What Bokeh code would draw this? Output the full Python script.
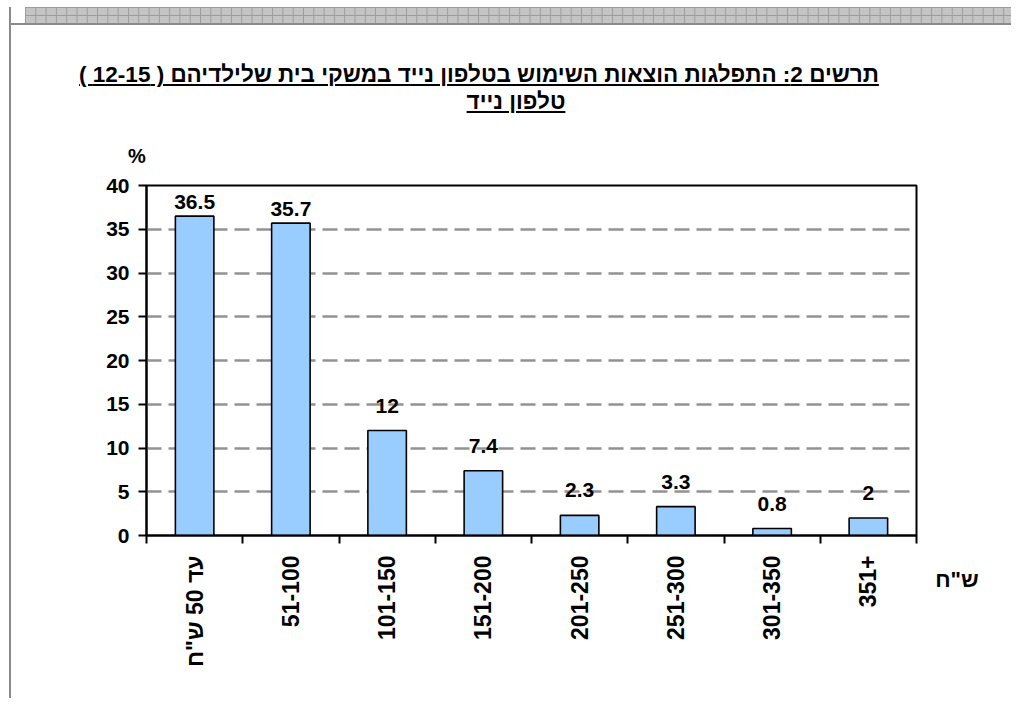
import math
import numpy as np
from bokeh.plotting import figure
from bokeh.models import ColumnDataSource, Range1d, FixedTicker, Div
from bokeh.layouts import column, row
from bokeh.embed import file_html
from bokeh.resources import INLINE
from bokeh.core.properties import value

# ---------------- data ----------------
categories = ['עד 50 ש"ח', "51-100", "101-150", "151-200", "201-250",
              "251-300", "301-350", "351+"]
percent = [36.5, 35.7, 12, 7.4, 2.3, 3.3, 0.8, 2]
value_labels = ["36.5", "35.7", "12", "7.4", "2.3", "3.3", "0.8", "2"]
y_ticks = [0, 5, 10, 15, 20, 25, 30, 35, 40]
title_line1 = "תרשים 2: התפלגות הוצאות השימוש בטלפון נייד במשקי בית שלילדיהם ( 12-15 )"
title_line2 = "טלפון נייד"
y_unit = "%"
x_unit = 'ש"ח'

FONT = "Liberation Sans"

n = len(categories)
centers = np.arange(n) + 0.5
vals = np.array(percent, dtype=float)
gaps = np.where(vals > 30, 7, 18)

src = ColumnDataSource(dict(x=centers, top=vals, lab=value_labels, off=-gaps))

# ---------------- header (frame band + title + y unit) ----------------
HEADER_H = 160
band_css = ("position:absolute;left:14px;top:0;width:986px;height:16px;"
            "background-color:#c4c4c4;"
            "background-image:linear-gradient(90deg,#9c9c9c 1px,transparent 1px),"
            "linear-gradient(#9c9c9c 1px,transparent 1px);"
            "background-size:10.3px 8px;")
txt = "position:absolute;font-weight:bold;color:#000;text-align:center;"
header_html = f"""
<div style="position:relative;width:1000px;height:{HEADER_H}px;font-family:'{FONT}',Arial,sans-serif;">
  <div style="{band_css}"></div>
  <div style="position:absolute;left:0;top:16px;width:1000px;height:2px;background:#8a8a8a;"></div>
  <div dir="rtl" style="{txt}left:0;width:936px;top:56px;font-size:22.5px;line-height:24px;
       text-decoration:underline;">{title_line1}</div>
  <div dir="rtl" style="{txt}left:305px;width:400px;top:83px;font-size:22.5px;line-height:24px;
       text-decoration:underline;">{title_line2}</div>
  <div style="{txt}left:106px;width:40px;top:139px;font-size:20px;line-height:20px;">{y_unit}</div>
</div>
"""
header = Div(text=header_html, width=1000, height=HEADER_H, margin=0)

FIG_H = 531
unit_html = f"""
<div style="position:relative;width:85px;height:{FIG_H}px;font-family:'{FONT}',Arial,sans-serif;">
  <div dir="rtl" style="{txt}left:0;width:62px;top:401px;font-size:22px;line-height:24px;">{x_unit}</div>
</div>
"""
unit_div = Div(text=unit_html, width=85, height=FIG_H, margin=0)

# ---------------- figure ----------------
p = figure(width=915, height=FIG_H, output_backend="svg", toolbar_location=None,
           x_range=Range1d(0, n), y_range=Range1d(y_ticks[0], y_ticks[-1]),
           min_border_left=135, min_border_right=10, min_border_top=18,
           min_border_bottom=163, background_fill_color="white",
           border_fill_color="white")
p.margin = 0

p.outline_line_color = "black"
p.outline_line_width = 2
p.outline_line_alpha = 1

# grid
p.xgrid.grid_line_color = None
p.ygrid.ticker = FixedTicker(ticks=y_ticks)
p.ygrid.grid_line_color = "#929292"
p.ygrid.grid_line_width = 2.5
p.ygrid.grid_line_dash = "15 7"

# bars
p.vbar(x="x", top="top", bottom=0, width=0.4, source=src,
       fill_color="#99CCFF", line_color="black", line_width=1.6)

# value labels
p.text(x="x", y="top", text="lab", y_offset="off", source=src,
       text_align="center", text_baseline="bottom",
       text_font=value(FONT), text_font_style="bold",
       text_font_size="21px", text_color="black")

# y axis
ya = p.yaxis[0]
ya.ticker = FixedTicker(ticks=y_ticks)
ya.axis_line_width = 2
ya.axis_line_color = "black"
ya.major_tick_line_width = 2
ya.major_tick_out = 8
ya.major_tick_in = 0
ya.minor_tick_line_color = None
ya.major_label_text_font = FONT
ya.major_label_text_font_style = "bold"
ya.major_label_text_font_size = "21px"
ya.major_label_text_color = "black"
ya.major_label_standoff = 9

# x axis: labels at centres, ticks at category boundaries
xa = p.xaxis[0]
xa.ticker = FixedTicker(ticks=list(centers), minor_ticks=list(range(n + 1)))
xa.major_label_overrides = {float(c): lab for c, lab in zip(centers, categories)}
xa.major_tick_line_color = None
xa.major_tick_out = 8
xa.major_tick_in = 0
xa.minor_tick_line_color = "black"
xa.minor_tick_line_width = 2
xa.minor_tick_out = 8
xa.minor_tick_in = 0
xa.axis_line_width = 2
xa.axis_line_color = "black"
xa.major_label_orientation = math.pi / 2
xa.major_label_text_font = FONT
xa.major_label_text_font_style = "bold"
xa.major_label_text_font_size = "23px"
xa.major_label_text_color = "black"
xa.major_label_standoff = 12

layout = column(header, row(p, unit_div, spacing=0, margin=0),
                spacing=0, margin=(7, 0, 0, 9),
                styles={"border-left": "2px solid #8a8a8a"})

open("out.html", "w").write(file_html(layout, INLINE))
